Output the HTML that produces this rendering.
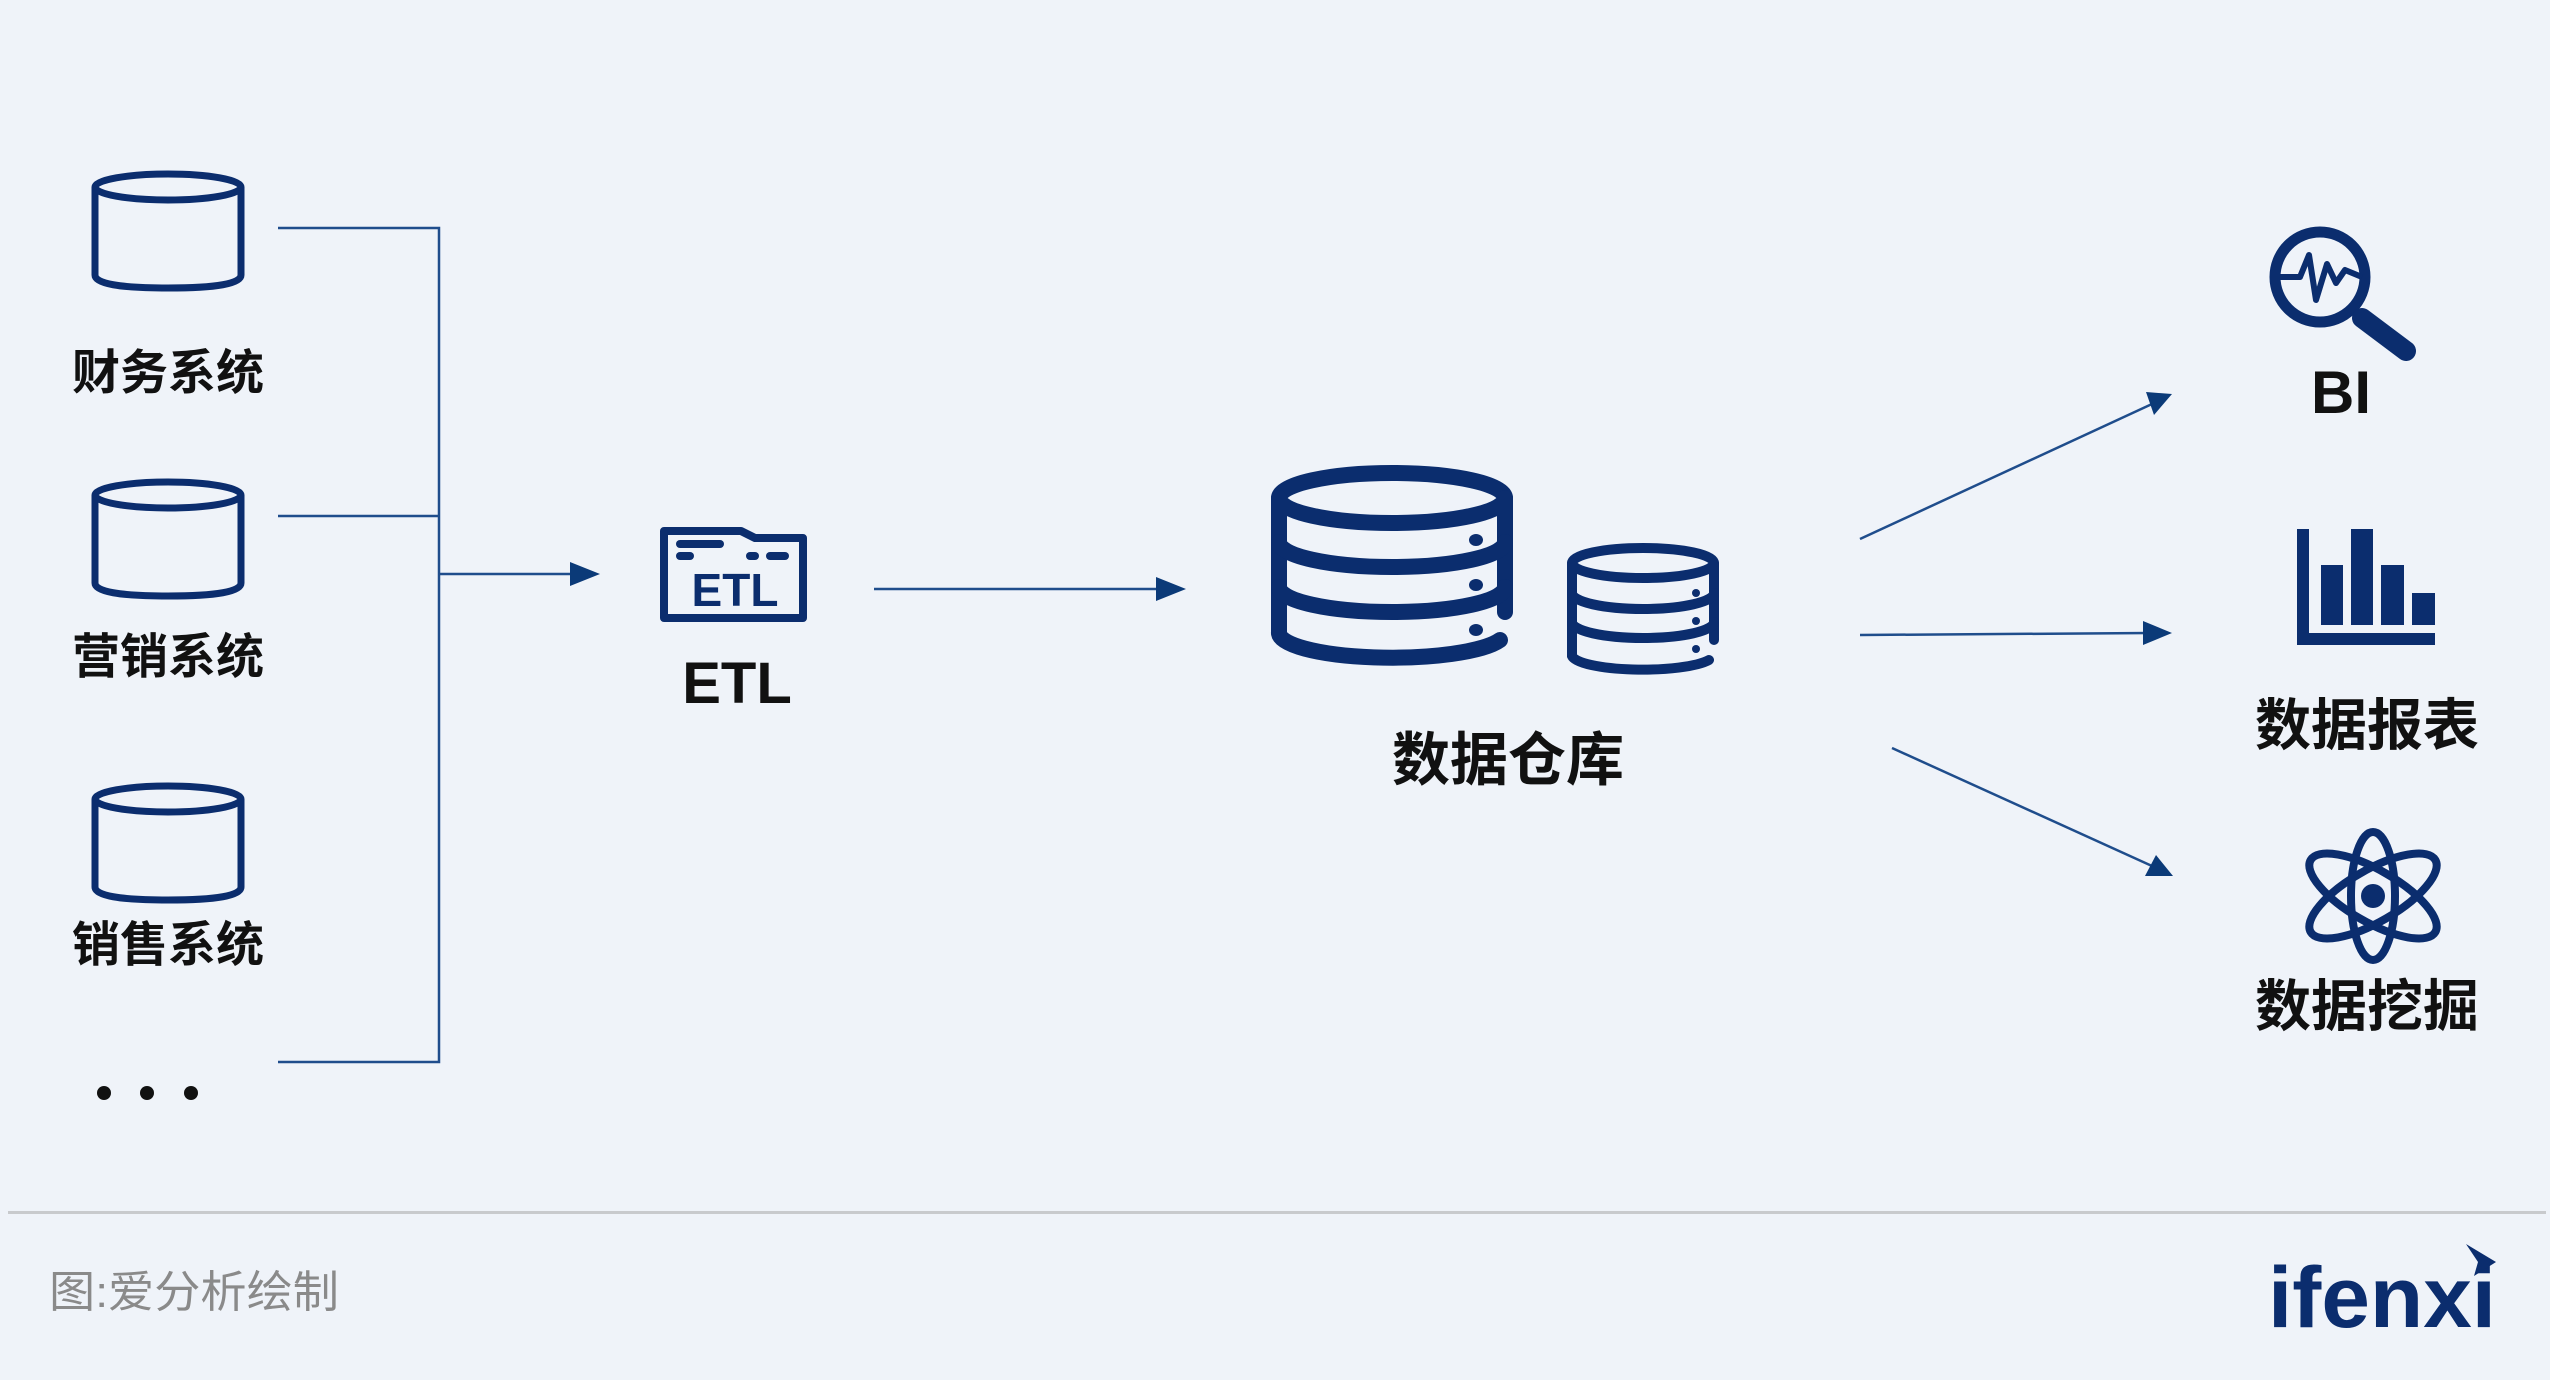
<!DOCTYPE html>
<html><head><meta charset="utf-8"><style>
html,body{margin:0;padding:0;background:#eff3f9;}
svg{display:block}
text{font-family:"Liberation Sans","Noto Sans CJK SC",sans-serif;}
</style></head><body>
<svg width="2550" height="1380" viewBox="0 0 2550 1380" xmlns="http://www.w3.org/2000/svg">
<rect width="2550" height="1380" fill="#eff3f9"/>
<g fill="none" stroke="#0b2d6e" stroke-width="7">
 <g id="cyl">
  <ellipse cx="168" cy="187" rx="73" ry="13"/>
  <path d="M95 187 V275 Q95 288 168 288 Q241 288 241 275 V187"/>
 </g>
 <use href="#cyl" y="308"/>
 <use href="#cyl" y="612"/>
</g>
<g font-size="48" font-weight="bold" fill="#111" text-anchor="middle">
 <text x="168" y="389">财务系统</text>
 <text x="168" y="673">营销系统</text>
 <text x="168" y="961">销售系统</text>
</g>
<circle cx="104" cy="1093" r="7" fill="#111"/>
<circle cx="147" cy="1093" r="7" fill="#111"/>
<circle cx="191" cy="1093" r="7" fill="#111"/>
<g stroke="#1f4d8c" stroke-width="2.5" fill="none">
 <path d="M278 228 H439 V1062 H278"/>
 <path d="M278 516 H439"/>
 <path d="M439 574 H582"/>
 <path d="M874 589 H1166"/>
 <path d="M1860 539 L2152 404"/>
 <path d="M1860 635 L2150 633"/>
 <path d="M1892 748 L2152 866"/>
</g>
<g fill="#0b3a78">
 <polygon points="570,562 600,574 570,586"/>
 <polygon points="1156,577 1186,589 1156,601"/>
 <polygon points="2146,392 2172,394 2154,415"/>
 <polygon points="2143,621 2172,633 2143,645"/>
 <polygon points="2145,876 2173,876 2156,855"/>
</g>
<g fill="none" stroke="#0b2d6e" stroke-width="8" stroke-linejoin="round">
 <path d="M664 531 H741 L755 538 H803 V618 H664 Z"/>
</g>
<g stroke="#0b2d6e" stroke-width="8" stroke-linecap="round">
 <line x1="680" y1="544" x2="720" y2="544"/>
 <line x1="680" y1="556" x2="690" y2="556"/>
 <line x1="750" y1="556" x2="755" y2="556"/>
 <line x1="770" y1="556" x2="785" y2="556"/>
</g>
<text x="735" y="606" font-size="46" font-weight="bold" fill="#0b2d6e" text-anchor="middle" font-family="Liberation Sans">ETL</text>
<text x="737" y="703" font-size="58" font-weight="bold" fill="#111" text-anchor="middle">ETL</text>
<g fill="none" stroke="#0b2d6e" stroke-width="16" stroke-linecap="round">
 <ellipse cx="1392" cy="498" rx="113" ry="25"/>
 <path d="M1279 498 V632 A113 25 0 0 0 1500 640"/>
 <path d="M1505 498 V612"/>
 <path d="M1279 542 A113 25 0 0 0 1505 542"/>
 <path d="M1279 587 A113 25 0 0 0 1505 587"/>
</g>
<g fill="#0b2d6e">
 <ellipse cx="1476" cy="540" rx="7" ry="6"/>
 <ellipse cx="1476" cy="585" rx="7" ry="6"/>
 <ellipse cx="1476" cy="630" rx="7" ry="6"/>
</g>
<g fill="none" stroke="#0b2d6e" stroke-width="10" stroke-linecap="round">
 <ellipse cx="1643" cy="563" rx="71" ry="15"/>
 <path d="M1572 563 V656 A71 15 0 0 0 1709 660"/>
 <path d="M1714 563 V640"/>
 <path d="M1572 593 A71 16 0 0 0 1714 593"/>
 <path d="M1572 622 A71 16 0 0 0 1714 622"/>
</g>
<g fill="#0b2d6e">
 <circle cx="1696" cy="593" r="4"/>
 <circle cx="1696" cy="621" r="4"/>
 <circle cx="1696" cy="649" r="4"/>
</g>
<text x="1508" y="780" font-size="58" font-weight="bold" fill="#111" text-anchor="middle">数据仓库</text>
<g fill="none" stroke="#0b2d6e">
 <circle cx="2320" cy="277" r="45" stroke-width="11"/>
 <polyline points="2280,277 2300,277 2309,255 2316,300 2327,264 2336,283 2345,270 2362,277" stroke-width="6" stroke-linejoin="round"/>
 <line x1="2362" y1="318" x2="2406" y2="351" stroke-width="20" stroke-linecap="round"/>
</g>
<text x="2341" y="413" font-size="60" font-weight="bold" fill="#111" text-anchor="middle">BI</text>
<g fill="#0b2d6e">
 <rect x="2297" y="529" width="12" height="116"/>
 <rect x="2297" y="633" width="138" height="12"/>
 <rect x="2321" y="565" width="22" height="60"/>
 <rect x="2351" y="529" width="22" height="96"/>
 <rect x="2381" y="565" width="23" height="60"/>
 <rect x="2412" y="593" width="23" height="32"/>
</g>
<text x="2367" y="745" font-size="56" font-weight="bold" fill="#111" text-anchor="middle">数据报表</text>
<g fill="none" stroke="#0b2d6e" stroke-width="8">
 <ellipse cx="2373" cy="896" rx="64" ry="22" transform="rotate(90 2373 896)"/>
 <ellipse cx="2373" cy="896" rx="72" ry="26" transform="rotate(30 2373 896)"/>
 <ellipse cx="2373" cy="896" rx="72" ry="26" transform="rotate(-30 2373 896)"/>
</g>
<circle cx="2373" cy="896" r="12" fill="#0b2d6e"/>
<text x="2367" y="1026" font-size="56" font-weight="bold" fill="#111" text-anchor="middle">数据挖掘</text>
<rect x="8" y="1211" width="2538" height="3" fill="#c8cacd"/>
<text x="49" y="1307" font-size="44" fill="#8a8a8a" textLength="290" lengthAdjust="spacingAndGlyphs">图:爱分析绘制</text>
<text x="2268" y="1327" font-size="86" font-weight="bold" fill="#0b2d6e" font-family="Liberation Sans" textLength="228" lengthAdjust="spacingAndGlyphs">ifenxi</text>
<polygon points="2466,1244 2496,1262 2474,1276 2478,1262" fill="#0b2d6e"/>
</svg>
</body></html>
